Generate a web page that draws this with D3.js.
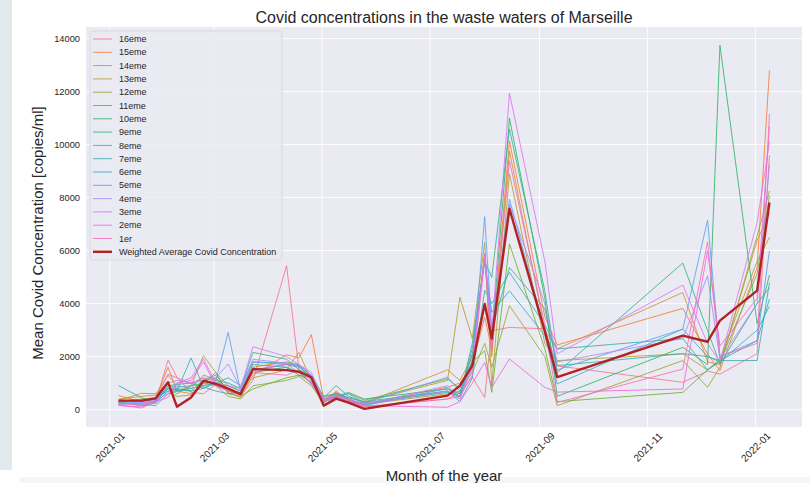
<!DOCTYPE html>
<html>
<head>
<meta charset="utf-8">
<script src="https://cdn.jsdelivr.net/npm/d3@7"></script>
<style>
  body { margin: 0; background: #fff; }
  text { font-family: "Liberation Sans", Arial, sans-serif; fill: #262626; }
</style>
</head>
<body>
<div id="chart"></div>
<script>
// sampling dates (shared by all districts)
const dates = ["2021-01-06","2021-01-19","2021-01-27","2021-02-03","2021-02-08","2021-02-16","2021-02-23",
  "2021-03-02","2021-03-09","2021-03-16","2021-03-23","2021-04-11","2021-04-18","2021-04-25","2021-05-02",
  "2021-05-09","2021-05-16","2021-05-25","2021-07-11","2021-07-18","2021-07-25","2021-08-01","2021-08-05",
  "2021-08-15","2021-09-04","2021-09-11","2021-11-21","2021-12-05","2021-12-12","2022-01-02","2022-01-09"];

const districts = ["16eme","15eme","14eme","13eme","12eme","11eme","10eme","9eme",
  "8eme","7eme","6eme","5eme","4eme","3eme","2eme","1er"];

const v16 = [180,60,300,1870,1220,650,600,950,700,520,1100,5430,1500,950,350,550,300,120,400,650,1220,460,2980,3100,3050,1650,1030,1450,1340,2110,9600];
const v15 = [530,300,450,1600,700,600,900,1200,650,450,1300,2070,1950,2830,400,650,400,200,850,1000,1700,3480,2300,10140,3500,2440,3820,2100,1470,5360,12800];
const v14 = [400,500,550,1300,900,800,1300,1150,800,600,1600,1800,1700,1300,250,700,350,250,1500,1100,2000,5900,2000,9760,3000,2290,4420,1800,1700,6370,7400];
const v13 = [350,615,600,1000,700,900,2035,1400,900,700,1200,1500,2160,1100,500,600,450,300,1100,4240,2680,6310,905,8900,2500,1850,2110,1500,1900,5600,6500];
const v12 = [300,400,450,700,500,550,1000,900,500,400,900,1100,1250,900,250,600,350,200,600,700,1400,2500,1600,3920,2000,150,1850,840,1600,6550,8250];
const v11 = [250,350,400,800,600,900,1000,1400,600,500,780,1200,1300,1050,300,450,600,350,1160,800,1800,2220,650,6250,2300,300,650,1500,1800,5120,8070];
const v10 = [350,300,400,800,750,700,1100,1300,700,600,1400,1600,1300,1200,400,500,650,400,780,600,2100,4000,2600,11000,4200,500,2350,1700,13750,3240,5080];
const v9 = [905,450,250,900,950,1000,800,1100,1000,800,2160,1900,1500,1300,500,600,450,300,700,500,2500,5600,4990,10580,4480,1400,5530,2980,1720,4000,4600];
const v8 = [300,150,250,700,800,700,800,1000,900,700,1700,1600,1400,1000,450,905,500,250,650,500,1900,5800,3000,5360,3800,1660,2110,2000,1850,2600,4170];
const v7 = [250,200,150,600,700,1950,850,700,600,650,1470,1700,1600,1250,300,500,300,200,700,300,1200,4500,4000,5180,3200,2290,2680,1500,1850,1850,4800];
const v6 = [200,250,300,800,700,800,900,1000,1200,900,1800,1750,1650,1200,350,600,400,150,800,500,2300,5600,3670,4480,2800,970,3040,2000,1800,3000,3900];
const v5 = [300,250,350,900,850,900,1200,1100,2910,700,1800,1700,1650,1300,300,500,600,250,1220,700,1500,7280,3000,7940,3000,1500,3040,7150,2000,2600,5990];
const v4 = [250,200,300,1000,1100,1000,1100,1200,1720,800,1900,1750,1700,1400,400,450,400,200,900,400,1800,5800,2500,7750,4000,1800,2680,5050,1900,4000,9240];
const v3 = [200,250,350,600,1000,1200,1910,1000,900,800,2375,2000,1700,1300,350,500,400,200,700,400,1600,5900,2900,11940,5600,2100,4700,2500,1800,7060,10100];
const v2 = [150,100,300,460,1000,1100,1800,900,700,600,1500,1720,1400,1000,300,450,350,150,90,300,1000,1780,840,1910,840,660,780,5990,2400,4200,10680];
const v1 = [250,150,350,1340,1200,1000,1200,900,700,650,1400,1300,1500,1100,400,550,300,100,400,500,1300,5700,2200,9390,3200,270,1530,6330,2000,2500,11150];

const weighted = [340,340,425,1030,110,460,1090,970,790,585,1530,1490,1430,1220,150,415,260,30,530,905,1660,3990,2680,7580,2950,1225,2790,2560,3355,4490,7815];

const seriesValues = [v16,v15,v14,v13,v12,v11,v10,v9,v8,v7,v6,v5,v4,v3,v2,v1];

// seaborn "husl" palette (HSLuv -> sRGB)
function huslPalette(n) {
  const m = [[3.240969941904521,-1.537383177570093,-0.498610760293],
             [-0.96924363628087,1.87596750150772,0.041555057407175],
             [0.055630079696993,-0.20397695888897,1.056971514242878]];
  const refU = 0.19783000664283, refV = 0.46831999493879;
  const kappa = 903.2962962, eps = 0.0088564516;
  function maxChroma(L, H) {
    const sub1 = Math.pow(L + 16, 3) / 1560896;
    const sub2 = sub1 > eps ? sub1 : L / kappa;
    const hr = H / 360 * 2 * Math.PI;
    let min = Infinity;
    m.forEach(([m1, m2, m3]) => {
      [0, 1].forEach(t => {
        const top1 = (284517 * m1 - 94839 * m3) * sub2;
        const top2 = (838422 * m3 + 769860 * m2 + 731718 * m1) * L * sub2 - 769860 * t * L;
        const bottom = (632260 * m3 - 126452 * m2) * sub2 + 126452 * t;
        const len = (top2 / bottom) / (Math.sin(hr) - (top1 / bottom) * Math.cos(hr));
        if (len >= 0) min = Math.min(min, len);
      });
    });
    return min;
  }
  function toRgb(H, S, L) {
    const C = maxChroma(L, H) / 100 * S;
    const hr = H / 180 * Math.PI;
    const U = Math.cos(hr) * C, V = Math.sin(hr) * C;
    const vu = U / (13 * L) + refU, vv = V / (13 * L) + refV;
    const Y = L <= 8 ? L / kappa : Math.pow((L + 16) / 116, 3);
    const X = -(9 * Y * vu) / ((vu - 4) * vv - vu * vv);
    const Z = (9 * Y - 15 * vv * Y - vv * X) / (3 * vv);
    const rgb = m.map(r => {
      const c = r[0] * X + r[1] * Y + r[2] * Z;
      const s = c <= 0.0031308 ? 12.92 * c : 1.055 * Math.pow(c, 1 / 2.4) - 0.055;
      return Math.round(Math.max(0, Math.min(1, s)) * 255);
    });
    return d3.rgb(rgb[0], rgb[1], rgb[2]).formatHex();
  }
  return d3.range(n).map(i => toRgb(((i / n + 0.01) % 1) * 359, 0.9 * 99, 0.65 * 100));
}

const width = 810, height = 483;
const plot = { left: 86, right: 802, top: 27, bottom: 427 };
const parse = d3.timeParse("%Y-%m-%d");
const xDates = dates.map(parse);
const colors = huslPalette(districts.length);

const svg = d3.select("#chart").append("svg")
  .attr("width", width).attr("height", height);

// notebook frame around the figure
svg.append("rect").attr("x", 0).attr("y", 0).attr("width", 12).attr("height", 470).attr("fill", "#e2e9ed");
svg.append("rect").attr("x", 20).attr("y", 477).attr("width", 790).attr("height", 6).attr("fill", "#f6f6f6");

// scales with matplotlib-like 5% margins
const xExt = d3.extent(xDates);
const xPad = (xExt[1] - xExt[0]) * 0.05;
const x = d3.scaleTime()
  .domain([new Date(+xExt[0] - xPad), new Date(+xExt[1] + xPad)])
  .range([plot.left, plot.right]);

const allVals = seriesValues.flat().concat(weighted);
const yExt = d3.extent(allVals);
const yPad = (yExt[1] - yExt[0]) * 0.05;
const y = d3.scaleLinear().domain([yExt[0] - yPad, yExt[1] + yPad]).range([plot.bottom, plot.top]);

svg.append("rect")
  .attr("x", plot.left).attr("y", plot.top)
  .attr("width", plot.right - plot.left).attr("height", plot.bottom - plot.top)
  .attr("fill", "#eaeaf2");

const xTicks = d3.timeMonth.every(2).range(new Date(2021, 0, 1), new Date(2022, 1, 1));
const yTicks = d3.range(0, 14001, 2000);

// grid
const grid = svg.append("g");
grid.selectAll(".gx").data(xTicks).join("line")
  .attr("x1", d => x(d)).attr("x2", d => x(d))
  .attr("y1", plot.top).attr("y2", plot.bottom)
  .attr("stroke", "#fff").attr("stroke-width", 0.9);
grid.selectAll(".gy").data(yTicks).join("line")
  .attr("x1", plot.left).attr("x2", plot.right)
  .attr("y1", d => y(d)).attr("y2", d => y(d))
  .attr("stroke", "#fff").attr("stroke-width", 0.9);

// axes (no spines, no tick marks, like seaborn darkgrid)
const axisY = svg.append("g")
  .attr("transform", `translate(${plot.left},0)`)
  .call(d3.axisLeft(y).tickValues(yTicks).tickSize(0).tickPadding(6).tickFormat(d3.format("d")));
axisY.select(".domain").remove();
axisY.selectAll("text").style("font-size", "9.3px").style("font-family", "Liberation Sans, Arial, sans-serif").attr("fill", "#262626");

const axisX = svg.append("g")
  .attr("transform", `translate(0,${plot.bottom})`)
  .call(d3.axisBottom(x).tickValues(xTicks).tickSize(0).tickFormat(d3.timeFormat("%Y-%m")));
axisX.select(".domain").remove();
axisX.selectAll("text")
  .style("font-size", "10px").style("font-family", "Liberation Sans, Arial, sans-serif")
  .attr("fill", "#262626")
  .attr("y", 20).attr("dy", "0.35em")
  .attr("text-anchor", "middle")
  .attr("transform", "rotate(-45,0,20)");

// district lines
const line = d3.line().x((d, i) => x(xDates[i])).y(d => y(d));
svg.append("g").selectAll("path").data(seriesValues).join("path")
  .attr("d", d => line(d))
  .attr("fill", "none")
  .attr("stroke", (d, i) => colors[i])
  .attr("stroke-opacity", 0.85)
  .attr("stroke-width", 1);

svg.append("path")
  .attr("d", line(weighted))
  .attr("fill", "none")
  .attr("stroke", "#b22222")
  .attr("stroke-width", 2.4)
  .attr("stroke-linejoin", "round");

// legend
const legendItems = districts.map((d, i) => ({ name: d, color: colors[i], w: 1 }))
  .concat([{ name: "Weighted Average Covid Concentration", color: "#b22222", w: 2.4 }]);
const legend = svg.append("g").attr("transform", "translate(90,31)");
legend.append("rect")
  .attr("width", 192).attr("height", 229).attr("rx", 3)
  .attr("fill", "#eaeaf2").attr("fill-opacity", 0.8)
  .attr("stroke", "#d4d4dc").attr("stroke-width", 0.8);
const rows = legend.selectAll(".row").data(legendItems).join("g")
  .attr("transform", (d, i) => `translate(0,${8 + i * 13.3})`);
rows.append("line")
  .attr("x1", 3).attr("x2", 22)
  .attr("stroke", d => d.color).attr("stroke-width", d => d.w)
  .attr("stroke-opacity", d => d.w > 1 ? 1 : 0.85);
rows.append("text")
  .attr("x", 29).attr("dy", "0.35em")
  .style("font-size", "9px")
  .text(d => d.name);

// title and labels
svg.append("text")
  .attr("x", (plot.left + plot.right) / 2).attr("y", 23)
  .attr("text-anchor", "middle").style("font-size", "16px")
  .text("Covid concentrations in the waste waters of Marseille");

svg.append("text")
  .attr("transform", `translate(43,${233})rotate(-90)`)
  .attr("text-anchor", "middle").style("font-size", "15px")
  .text("Mean Covid Concentration [copies/ml]");

svg.append("text")
  .attr("x", (plot.left + plot.right) / 2).attr("y", 481)
  .attr("text-anchor", "middle").style("font-size", "15px")
  .text("Month of the year");
</script>
</body>
</html>
